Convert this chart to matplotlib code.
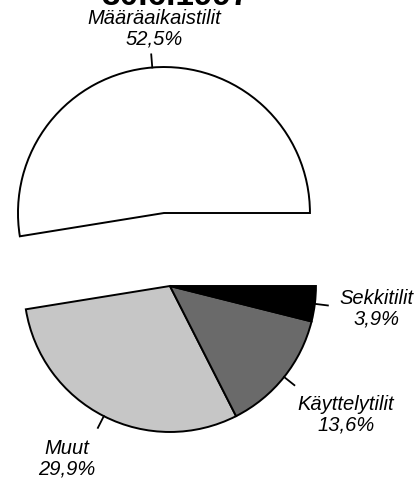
import numpy as np
import matplotlib
matplotlib.use('Agg')
import matplotlib.pyplot as plt

# osuudet, vastapaivaan alkaen klo 3 suunnasta
labels = ['Määräaikaistilit', 'Muut', 'Käyttelytilit', 'Sekkitilit']
values = [52.5, 29.9, 13.6, 3.9]
value_text = ['52,5%', '29,9%', '13,6%', '3,9%']
colors = ['white', '#c6c6c6', '#6a6a6a', 'black']
title = '30.6.1997'

# tekstien sijoittelu: (sade, kulman korjaus)
label_pos = [(1.27, -1.7), (1.37, -4.0), (1.49, 2.5), (1.42, 1.0)]

plt.rcParams['font.family'] = ['Liberation Sans', 'DejaVu Sans']

fig = plt.figure(figsize=(4.18, 4.81), dpi=100)
ax = fig.add_axes([0, 0, 1, 1])

top_center = (0.0, 0.0)
bot_center = (0.041, -0.5)

def draw_part(center, show):
	fc = [c if s else 'none' for c, s in zip(colors, show)]
	wedges, _ = ax.pie(values, colors=fc, startangle=0, counterclock=True,
		center=center, radius=1.0, frame=True,
		wedgeprops=dict(linewidth=1.4, edgecolor='black'))
	for w, s in zip(wedges, show):
		if not s:
			w.set_edgecolor('none')
	return wedges

w_top = draw_part(top_center, [True, False, False, False])
w_bot = draw_part(bot_center, [False, True, True, True])

ax.set_xlim(-1.123, 1.740)
ax.set_ylim(-1.829, 1.466)
ax.set_aspect('equal')
ax.axis('off')

for i in range(len(values)):
	w = w_top[i] if i == 0 else w_bot[i]
	cx, cy = top_center if i == 0 else bot_center
	mid = np.deg2rad((w.theta1 + w.theta2) / 2)
	ax.plot([cx + np.cos(mid), cx + 1.09 * np.cos(mid)],
		[cy + np.sin(mid), cy + 1.09 * np.sin(mid)], color='black', lw=1.3)
	r, da = label_pos[i]
	a = mid + np.deg2rad(da)
	ax.text(cx + r * np.cos(a), cy + r * np.sin(a), labels[i] + '\n' + value_text[i],
		ha='center', va='center', fontsize=14.5, style='italic', linespacing=1.1)

fig.text(0.42, 1 - 5 / 481, title, ha='center', va='baseline',
	fontsize=24, fontweight='bold')

fig.savefig('out.png', dpi=100, facecolor='white')
